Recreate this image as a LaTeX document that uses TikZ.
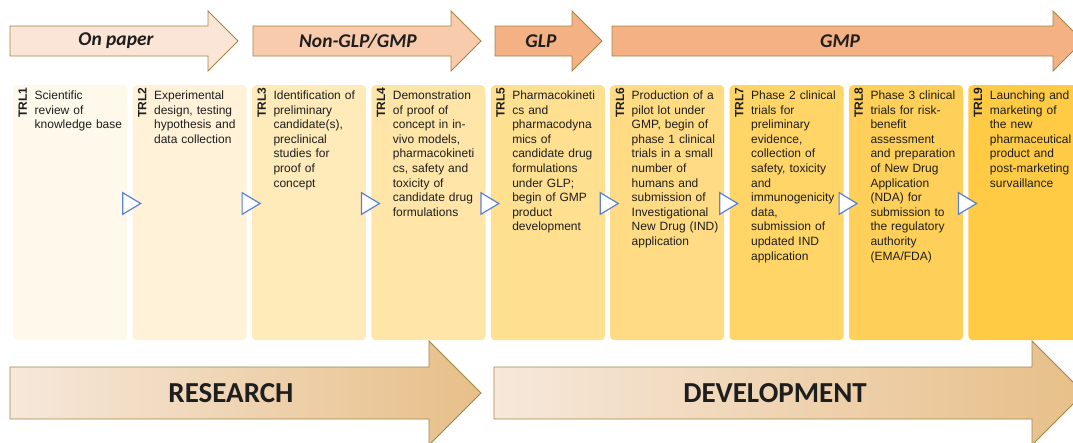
\documentclass[tikz,border=0pt]{standalone}
\usepackage{fontspec}
\setmainfont{Liberation Sans}
\newfontfamily\carl{Carlito}
\definecolor{arb}{HTML}{A38645}
\definecolor{ar1}{HTML}{FBE5D6}
\definecolor{ar2}{HTML}{F8CBAD}
\definecolor{ar3}{HTML}{F4B183}
\definecolor{bl}{HTML}{F6E8DB}
\definecolor{br}{HTML}{E7BF88}
\definecolor{c1}{HTML}{FFF9EC}
\definecolor{c2}{HTML}{FFF2D8}
\definecolor{c3}{HTML}{FFEBBA}
\definecolor{c4}{HTML}{FFE6A8}
\definecolor{c5}{HTML}{FFE090}
\definecolor{c6}{HTML}{FFDB83}
\definecolor{c7}{HTML}{FFD567}
\definecolor{c8}{HTML}{FFD059}
\definecolor{c9}{HTML}{FFCA44}
\definecolor{tri}{HTML}{5B82D0}
\definecolor{txt}{HTML}{1E1E1E}
\begin{document}
\begin{tikzpicture}[x=1pt,y=-1pt,
  tarrow/.style={draw=arb,line width=0.9pt,line join=miter},
  tlab/.style={font=\carl\bfseries\itshape\fontsize{19.5}{20}\selectfont,text=txt,inner sep=0pt},
  blab/.style={font=\carl\bfseries\fontsize{29}{30}\selectfont,text=txt,inner sep=0pt},
  box/.style={anchor=north west,minimum width=114pt,minimum height=255pt,rounded corners=4pt,inner sep=0pt,draw=none},
  trl/.style={rotate=90,anchor=base west,font=\bfseries\fontsize{12}{14}\selectfont,text=txt,inner sep=0pt},
  desc/.style={anchor=base west,align=left,text width=130pt,font=\fontsize{12}{14.6}\selectfont,text=txt,inner sep=0pt},
  tristyle/.style={draw=tri,fill=white,line width=1.2pt,line join=miter}]
\useasboundingbox (0,0) rectangle (1073,442);
\clip (0,0) rectangle (1073,442);
% top phase arrows
\path[tarrow,fill=ar1] (10,26) -- (208,26) -- (208,11) -- (238,41) -- (208,71) -- (208,56) -- (10,56) -- cycle;
\path[tarrow,fill=ar2] (253,26) -- (451,26) -- (451,11) -- (481,41) -- (451,71) -- (451,56) -- (253,56) -- cycle;
\path[tarrow,fill=ar3] (495,26) -- (572,26) -- (572,11) -- (602,41) -- (572,71) -- (572,56) -- (495,56) -- cycle;
\path[tarrow,fill=ar3] (612,26) -- (1053,26) -- (1053,11) -- (1083,41) -- (1053,71) -- (1053,56) -- (612,56) -- cycle;
\node[tlab] (p1) at (116,41) {On paper};
\node[tlab] (p2) at (358,41) {Non-GLP/GMP};
\node[tlab] (p3) at (541,41) {GLP};
\node[tlab] (p4) at (840,41) {GMP};
% boxes
\foreach \i in {1,...,9}{
  \node[box,fill=c\i] (box\i) at ({13+119.4*(\i-1)},85) {};
  \node[trl] (trl\i) at ({27+119.4*(\i-1)},118) {TRL\i};
}
\foreach \i in {1,...,8}{
  \draw[tristyle] ({122.7+119.4*(\i-1)},192.7) -- ++(0,21.6) -- ++(18,-10.8) -- cycle;
}
\node[desc] (d1) at (34.5,99.5) {Scientific\\review of\\knowledge base};
\node[desc] (d2) at (153.9,99.5) {Experimental\\design, testing\\hypothesis and\\data collection};
\node[desc] (d3) at (273.3,99.5) {Identification of\\preliminary\\candidate(s),\\preclinical\\studies for\\proof of\\concept};
\node[desc] (d4) at (392.7,99.5) {Demonstration\\of proof of\\concept in in-\\vivo models,\\pharmacokineti\\cs, safety and\\toxicity of\\candidate drug\\formulations};
\node[desc] (d5) at (512.1,99.5) {Pharmacokineti\\cs and\\pharmacodyna\\mics of\\candidate drug\\formulations\\under GLP;\\begin of GMP\\product\\development};
\node[desc] (d6) at (631.5,99.5) {Production of a\\pilot lot under\\GMP, begin of\\phase 1 clinical\\trials in a small\\number of\\humans and\\submission of\\Investigational\\New Drug (IND)\\application};
\node[desc] (d7) at (750.9,99.5) {Phase 2 clinical\\trials for\\preliminary\\evidence,\\collection of\\safety, toxicity\\and\\immunogenicity\\data,\\submission of\\updated IND\\application};
\node[desc] (d8) at (870.3,99.5) {Phase 3 clinical\\trials for risk-\\benefit\\assessment\\and preparation\\of New Drug\\Application\\(NDA) for\\submission to\\the regulatory\\authority\\(EMA/FDA)};
\node[desc] (d9) at (989.7,99.5) {Launching and\\marketing of\\the new\\pharmaceutical\\product and\\post-marketing\\survaillance};
% bottom arrows
\path[tarrow,left color=bl,right color=br] (10,367) -- (429,367) -- (429,341) -- (481,393) -- (429,445) -- (429,419) -- (10,419) -- cycle;
\path[tarrow,left color=bl,right color=br] (494,367) -- (1032,367) -- (1032,341) -- (1084,393) -- (1032,445) -- (1032,419) -- (494,419) -- cycle;
\node[blab] (res) at (231,393) {RESEARCH};
\node[blab] (dev) at (775,393) {DEVELOPMENT};
\end{tikzpicture}
\end{document}
